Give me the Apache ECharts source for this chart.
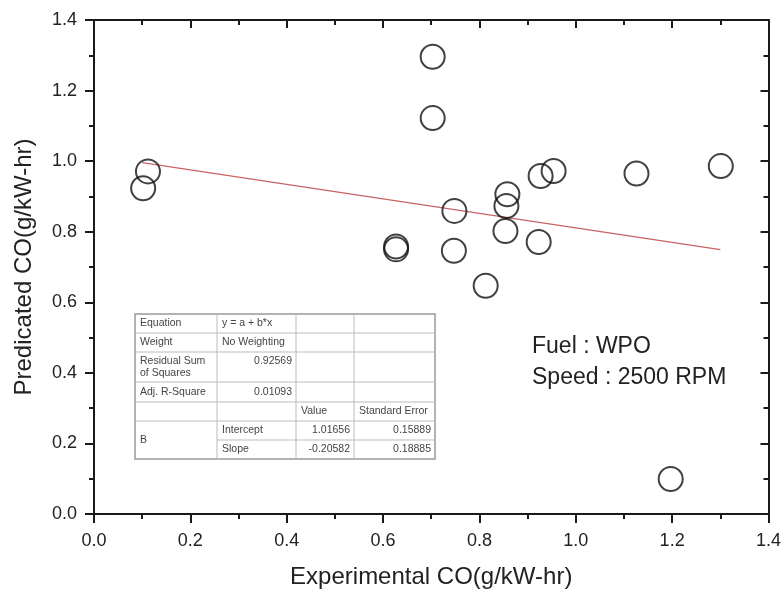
<!DOCTYPE html>
<html>
<head>
<meta charset="utf-8">
<script src="https://cdn.jsdelivr.net/npm/echarts@6/dist/echarts.min.js"></script>
<style>html,body{margin:0;padding:0;background:#fff}#chart{width:784px;height:594px}</style>
</head>
<body>
<div id="chart"></div>
<script>
// ---- data ----
const expCO  = [0.102, 0.112, 0.703, 0.703, 0.627, 0.627, 0.748, 0.747, 0.813, 0.854, 0.856, 0.858, 0.923, 0.927, 0.954, 1.126, 1.197, 1.301];
const predCO = [0.923, 0.971, 1.296, 1.122, 0.758, 0.750, 0.859, 0.746, 0.647, 0.802, 0.873, 0.906, 0.771, 0.958, 0.972, 0.965, 0.099, 0.986];
const fitX = [0.1, 1.3];
const fitY = [0.996, 0.749];
const xTicks = [0.0, 0.2, 0.4, 0.6, 0.8, 1.0, 1.2, 1.4];
const yTicks = [0.0, 0.2, 0.4, 0.6, 0.8, 1.0, 1.2, 1.4];
const noteLines = ["Fuel : WPO", "Speed : 2500 RPM"];
const tableRows = [
  ["Equation", "y = a + b*x", "", ""],
  ["Weight", "No Weighting", "", ""],
  ["Residual Sum\nof Squares", "0.92569", "", ""],
  ["Adj. R-Square", "0.01093", "", ""],
  ["", "", "Value", "Standard Error"],
  ["B", "Intercept", "1.01656", "0.15889"],
  ["", "Slope", "-0.20582", "0.18885"]
];

// ---- layout ----
const FONT = "'Liberation Sans', Arial, sans-serif";
const tblColX = [135, 217, 296, 354, 435];
const tblRowY = [314, 333, 352, 382, 402, 421, 440, 459];

const chart = echarts.init(document.getElementById('chart'));

function axisCommon(showLabels, inside) {
  return {
    type: 'value', min: xTicks[0], max: xTicks[xTicks.length - 1], interval: 0.2,
    axisLine: { show: true, onZero: false, lineStyle: { color: '#1a1a1a', width: 2 } },
    axisTick: { show: true, inside: inside, length: 9, lineStyle: { color: '#1a1a1a', width: 2 } },
    minorTick: { show: true, splitNumber: 2, length: 5, lineStyle: { color: '#1a1a1a', width: 2 } },
    splitLine: { show: false }, minorSplitLine: { show: false },
    axisLabel: { show: showLabels, fontSize: 18, color: '#222', fontFamily: FONT,
      formatter: v => v.toFixed(1) }
  };
}

const xMain = Object.assign(axisCommon(true, false), {
  position: 'bottom', name: 'Experimental CO(g/kW-hr)', nameLocation: 'middle', nameGap: 51,
  nameTextStyle: { fontSize: 24, color: '#222', fontFamily: FONT }
});
xMain.axisLabel.margin = 18;
const xTop = Object.assign(axisCommon(false, true), { position: 'top' });
xTop.axisTick.length = 8;

const yMain = Object.assign(axisCommon(true, false), {
  min: yTicks[0], max: yTicks[yTicks.length - 1],
  position: 'left', name: 'Predicated CO(g/kW-hr)', nameLocation: 'middle', nameGap: 58,
  nameTextStyle: { fontSize: 24, color: '#222', fontFamily: FONT }
});
yMain.axisLabel.margin = 17;
const yRight = Object.assign(axisCommon(false, true), { min: yTicks[0], max: yTicks[yTicks.length - 1], position: 'right' });
yRight.axisTick.length = 8;

// table graphic
const tblEls = [];
tblEls.push({ type: 'rect', shape: { x: tblColX[0], y: tblRowY[0], width: tblColX[4] - tblColX[0], height: tblRowY[7] - tblRowY[0] },
  style: { fill: '#fff', stroke: '#999', lineWidth: 1.5 }, z: 100 });
for (let i = 1; i < tblRowY.length - 1; i++) {
  const x1 = (i === 6) ? tblColX[1] : tblColX[0];
  tblEls.push({ type: 'line', shape: { x1: x1, y1: tblRowY[i], x2: tblColX[4], y2: tblRowY[i] },
    style: { stroke: '#bbb', lineWidth: 1 }, z: 101 });
}
for (let j = 1; j < tblColX.length - 1; j++) {
  tblEls.push({ type: 'line', shape: { x1: tblColX[j], y1: tblRowY[0], x2: tblColX[j], y2: tblRowY[7] },
    style: { stroke: '#bbb', lineWidth: 1 }, z: 101 });
}
tableRows.forEach((row, r) => {
  row.forEach((txt, c) => {
    if (!txt) return;
    const numeric = /^-?\d/.test(txt) && c > 0;
    let y = (tblRowY[r] + tblRowY[r + 1]) / 2;
    let va = 'middle';
    if (r === 2 && c === 1) { y = tblRowY[r] + 3; va = 'top'; }
    if (r === 5 && c === 0) { y = tblRowY[6]; }
    tblEls.push({ type: 'text', z: 102, style: {
      text: txt, x: numeric ? tblColX[c + 1] - 4 : tblColX[c] + 5, y: y,
      align: numeric ? 'right' : 'left', verticalAlign: va,
      fontSize: 10.5, fontFamily: FONT, fill: '#444', lineHeight: 12
    }});
  });
});

const noteEls = noteLines.map((t, i) => ({
  type: 'text', z: 50, style: { text: t, x: 532, y: 347 + i * 31, verticalAlign: 'middle',
    fontSize: 23, fontFamily: FONT, fill: '#222' }
}));

chart.setOption({
  backgroundColor: '#fff',
  animation: false,
  grid: { left: 94, right: 15, top: 20, bottom: 78, containLabel: false },
  xAxis: [xMain, xTop],
  yAxis: [yMain, yRight],
  series: [
    {
      type: 'line', xAxisIndex: 0, yAxisIndex: 0,
      data: fitX.map((x, i) => [x, fitY[i]]),
      showSymbol: false, symbol: 'none',
      lineStyle: { color: '#c86464', width: 1.3 }, z: 2, silent: true
    },
    {
      type: 'scatter', xAxisIndex: 0, yAxisIndex: 0,
      data: expCO.map((x, i) => [x, predCO[i]]),
      symbol: 'circle', symbolSize: 24,
      itemStyle: { color: 'rgba(0,0,0,0)', borderColor: '#111', borderWidth: 2 },
      emphasis: { disabled: true }, z: 3, silent: true
    }
  ],
  graphic: { elements: tblEls.concat(noteEls) }
});
</script>
</body>
</html>
